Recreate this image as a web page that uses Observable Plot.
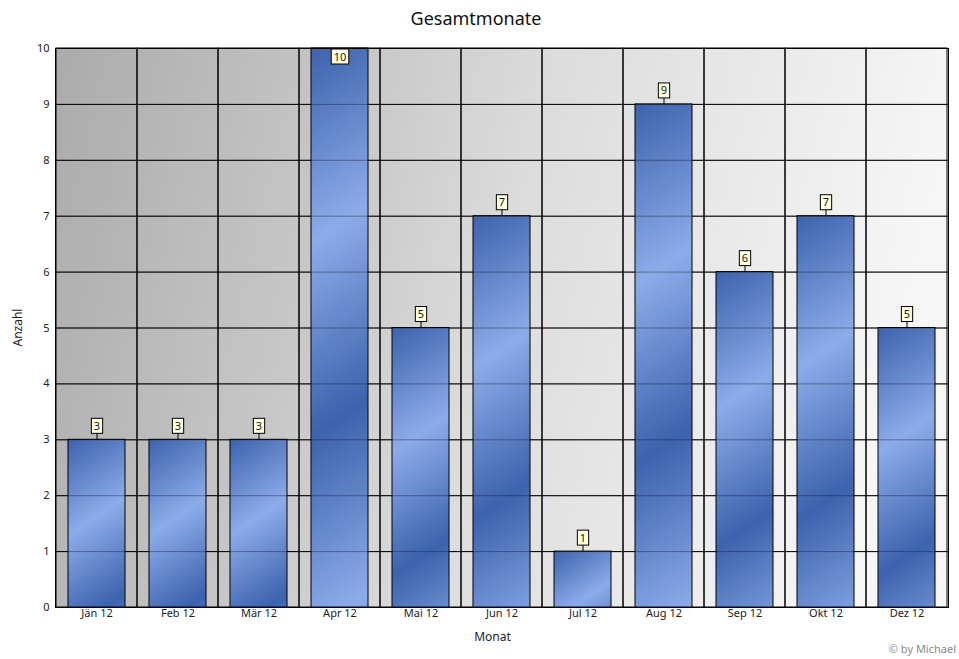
<!DOCTYPE html>
<html><head><meta charset="utf-8">
<script src="https://cdn.jsdelivr.net/npm/d3@7"></script>
<script src="https://cdn.jsdelivr.net/npm/@observablehq/plot@0.6"></script>
<style>
html,body{margin:0;padding:0;background:#fff;}
#page{position:relative;width:959px;height:659px;overflow:hidden;font-family:"Noto Sans",sans-serif;}
#title{height:37px;line-height:37px;font-size:18px;text-align:center;padding-right:7px;color:#111;}
#caption{position:absolute;right:3px;top:642px;font-size:11px;line-height:14px;color:#8a8a8a;}
#chart svg{display:block;}
</style></head><body>
<div id="page"><div id="title">Gesamtmonate</div><div id="chart"></div><div id="caption">© by Michael</div></div>
<script>
const months = ["Jän 12","Feb 12","Mär 12","Apr 12","Mai 12","Jun 12","Jul 12","Aug 12","Sep 12","Okt 12","Dez 12"];
const counts = [3,3,3,10,5,7,1,9,6,7,5];
const yTicks = [0,1,2,3,4,5,6,7,8,9,10];
const gridLevels = [1,2,3,4,5,6,7,8,9];
const yLabel = "Anzahl";
const xLabel = "Monat";
const data = months.map((m,i)=>({month:m, value:counts[i]}));

const W=959, H=622, mL=55, mR=11, mT=11, mB=52;
const chart = Plot.plot({
  width: W, height: H, marginLeft: mL, marginRight: mR, marginTop: mT, marginBottom: mB,
  style: {fontFamily: '"Noto Sans", sans-serif', fontSize: "11px", background: "transparent", color:"#222", overflow:"visible"},
  x: {type:"band", domain: months, padding: 0, tickSize: 0, tickPadding: 2, label: null},
  y: {domain:[0,10], ticks: yTicks, tickSize: 0, tickPadding: 6, label: null},
  marks: [
    Plot.frame({fill:"#cccccc", ariaDescription:"bgframe"}),
    Plot.barY(months, {x: d=>d, y1: 0, y2: 10, fill:"none", stroke:"black", strokeWidth:1}),
    Plot.ruleY(gridLevels, {stroke:"black"}),
    Plot.barY(data, {x:"month", y:"value", insetLeft:12, insetRight:12, fill:"#5b7fc7", stroke:"black", ariaDescription:"bars"}),
    Plot.ruleY(gridLevels, {stroke:"black", strokeOpacity:0.35}),
    Plot.frame({stroke:"black"}),
    Plot.text(data, {x:"month", y:"value", text: d=>String(d.value), dy:-13.5, fontSize:11, fill:"#1a1a1a", ariaDescription:"labels"}),
    Plot.text([yLabel], {text:d=>d, frameAnchor:"left", rotate:-90, dx:-37.5, dy:18.5, fontSize:12, fill:"#222"}),
    Plot.text([xLabel], {text:d=>d, frameAnchor:"bottom", dx:-9.5, dy:33.5, fontSize:12, fill:"#222"})
  ]
});
document.getElementById("chart").append(chart);

const ns = "http://www.w3.org/2000/svg";
const svg = chart.tagName.toLowerCase()==="svg" ? chart : chart.querySelector("svg");
const defs = document.createElementNS(ns,"defs");
svg.insertBefore(defs, svg.firstChild);
function grad(id, attrs, stops){
  const lg = document.createElementNS(ns,"linearGradient");
  lg.setAttribute("id", id);
  for (const k in attrs) lg.setAttribute(k, attrs[k]);
  for (const [o,c] of stops){
    const s = document.createElementNS(ns,"stop");
    s.setAttribute("offset", o); s.setAttribute("stop-color", c);
    lg.append(s);
  }
  defs.append(lg);
}
function rectsOf(el){
  if (!el) return [];
  return el.tagName.toLowerCase()==="rect" ? [el] : Array.from(el.querySelectorAll("rect"));
}
grad("bgGrad", {x1:0,y1:0,x2:1,y2:0.15}, [[0,"#ababab"],[0.4,"#cdcdcd"],[0.55,"#dcdcdc"],[1,"#f6f6f6"]]);
rectsOf(svg.querySelector('[aria-description="bgframe"]')).forEach(r=>r.setAttribute("fill","url(#bgGrad)"));

rectsOf(svg.querySelector('[aria-description="bars"]')).forEach((r,i)=>{
  const x=+r.getAttribute("x"), y=+r.getAttribute("y"), h=+r.getAttribute("height");
  const P = 45 + 0.21*h;
  grad("barGrad"+i, {gradientUnits:"userSpaceOnUse", spreadMethod:"reflect", x1:x, y1:y, x2:x+0.55*P, y2:y+0.835*P}, [[0,"#3d63ad"],[1,"#8cabe9"]]);
  r.setAttribute("fill", `url(#barGrad${i})`);
});

const lblGroup = svg.querySelector('[aria-description="labels"]');
(lblGroup ? Array.from(lblGroup.querySelectorAll("text")) : []).forEach(t=>{
  const bb = t.getBBox();
  const cx = bb.x + bb.width/2, yc = bb.y + bb.height/2 + 0.5;
  const w = bb.width + 5, h = 15;
  const parent = t.parentNode;
  const grp = document.createElementNS(ns,"g");
  const inner = document.createElementNS(ns,"g");
  const tr = t.getAttribute("transform");
  if (tr) { inner.setAttribute("transform", tr); t.removeAttribute("transform"); }
  parent.insertBefore(grp, t);
  grp.append(inner);
  const rect = document.createElementNS(ns,"rect");
  rect.setAttribute("x", cx - w/2); rect.setAttribute("y", yc - h/2);
  rect.setAttribute("width", w); rect.setAttribute("height", h);
  rect.setAttribute("fill", "#ffffe1"); rect.setAttribute("stroke", "black"); rect.setAttribute("stroke-width", 1);
  const line = document.createElementNS(ns,"line");
  line.setAttribute("x1", cx); line.setAttribute("x2", cx);
  line.setAttribute("y1", yc + h/2); line.setAttribute("y2", yc + h/2 + 6);
  line.setAttribute("stroke", "black");
  inner.append(rect, line, t);
  const m = rect.getCTM();
  const topAbs = m.f + m.d*(yc - h/2);
  if (topAbs < mT + 1) {
    grp.setAttribute("transform", `translate(0,${mT + 1 - topAbs})`);
    line.remove();
  }
});
</script>
</body></html>
